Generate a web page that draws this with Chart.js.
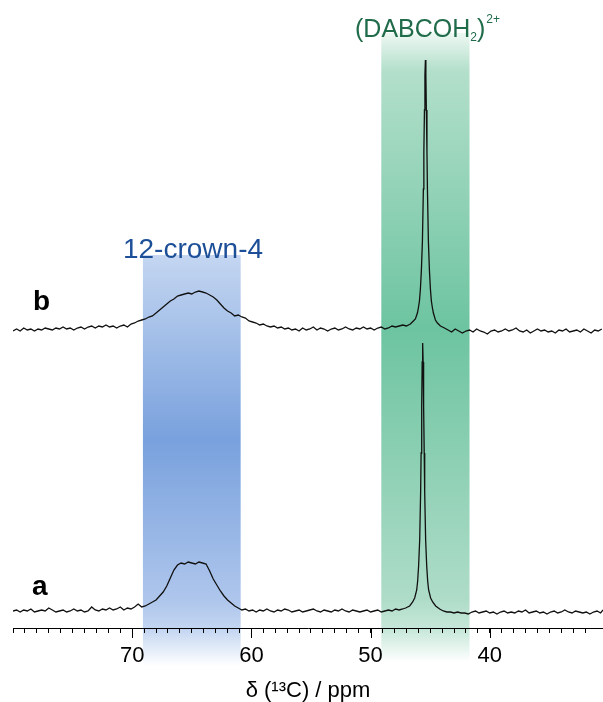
<!DOCTYPE html>
<html><head><meta charset="utf-8">
<script src="https://cdn.jsdelivr.net/npm/chart.js@4.4.1/dist/chart.umd.min.js"></script>
<style>html,body{margin:0;padding:0;background:#fff}#wrap{width:603px;height:702px}</style>
</head><body><div id="wrap"><canvas id="c" width="603" height="702"></canvas></div>
<script>
// chemical shift axis (ppm) and intensities for spectrum a
const ppmA=[80.0,79.7,79.4,79.1,78.8,78.5,78.2,77.9,77.6,77.3,77.0,76.7,76.4,76.1,75.8,75.5,75.2,74.9,74.6,74.3,74.0,73.7,73.4,73.1,72.8,72.5,72.2,71.9,71.6,71.3,71.0,70.7,70.4,70.1,69.8,69.5,
69.2,68.9,68.6,68.3,68.0,67.7,67.4,67.1,66.8,66.5,66.2,65.9,65.6,65.3,65.0,64.7,64.4,64.1,63.8,63.5,63.2,62.9,62.6,62.3,62.0,61.7,61.4,61.1,60.8,
60.5,60.2,59.9,59.6,59.3,59.0,58.7,58.4,58.1,57.8,57.5,57.2,56.9,56.6,56.3,56.0,55.7,55.4,55.1,54.8,54.5,54.2,53.9,53.6,53.3,53.0,52.7,52.4,52.1,51.8,51.5,51.2,50.9,50.6,50.3,50.0,49.7,49.4,49.1,48.8,48.5,48.2,47.9,47.6,47.3,
47.06,46.72,46.47,46.30,46.13,46.05,45.97,45.88,45.80,45.76,45.71,45.67,45.63,45.59,45.55,45.50,45.46,45.38,45.29,45.21,45.13,44.96,44.79,44.54,44.20,
43.9,43.6,43.3,43.0,42.7,42.4,42.1,41.8,41.5,41.2,40.9,40.6,40.3,40.0,39.7,39.4,39.1,38.8,38.5,38.2,37.9,37.6,37.3,37.0,36.7,36.4,36.1,35.8,35.5,35.2,34.9,34.6,34.3,34.0,33.7,33.4,33.1,32.8,32.5,32.2,31.9,31.6,31.3,31.0,30.7,30.5];
const intA=[0,1,-1,1,0,2,-1,0,1,0,3,1,-1,0,1,-1,0,2,0,1,-1,0,4,1,0,2,1,3,1,2,4,1,3,2,4,7,
4,5,7,9,11,15,19,25,33,41,46,48,47,49,48,47,49,48,47,40,32,26,20,15,11,8,5,3,1,
2,0,1,-1,1,0,2,0,-1,1,0,2,1,-1,0,1,-1,0,1,2,0,-1,1,0,-1,1,0,2,0,-1,1,0,-1,0,1,-1,0,1,-1,0,1,0,2,1,2,
3,5,9,13,21,30,45,71,119,158,205,249,268,249,205,158,119,71,45,30,21,13,9,5,2,
0,-1,-1,-2,-1,-2,-2,-3,-1,0,-2,-1,0,-2,-1,-3,-1,0,-2,-1,-2,0,-1,1,-2,-1,0,-2,-1,-3,-1,0,-2,-1,1,-1,-2,0,-1,-2,-1,-3,-1,0,-2,1];
// spectrum b
const ppmB=[80.0,79.7,79.4,79.1,78.8,78.5,78.2,77.9,77.6,77.3,77.0,76.7,76.4,76.1,75.8,75.5,75.2,74.9,74.6,74.3,74.0,73.7,73.4,73.1,72.8,72.5,72.2,71.9,71.6,71.3,71.0,70.7,70.4,70.1,69.8,69.5,
69.2,68.9,68.6,68.3,68.0,67.7,67.4,67.1,66.8,66.5,66.2,65.9,65.6,65.3,65.0,64.7,64.4,64.1,63.8,63.5,63.2,62.9,62.6,62.3,62.0,61.7,61.4,61.1,60.8,60.5,60.2,59.9,59.6,59.3,59.0,58.7,58.4,58.1,57.8,57.5,57.2,56.9,56.6,
56.3,56.0,55.7,55.4,55.1,54.8,54.5,54.2,53.9,53.6,53.3,53.0,52.7,52.4,52.1,51.8,51.5,51.2,50.9,50.6,50.3,50.0,49.7,49.4,49.1,48.8,48.5,48.2,47.9,47.6,47.3,
47.00,46.66,46.41,46.24,46.07,45.99,45.90,45.82,45.74,45.65,45.57,45.53,45.48,45.44,45.40,45.36,45.32,45.27,45.23,45.15,45.06,44.98,44.90,44.81,44.73,44.56,44.39,44.14,43.80,
43.5,43.2,42.9,42.6,42.3,42.0,41.7,41.4,41.1,40.8,40.5,40.2,39.9,39.6,39.3,39.0,38.7,38.4,38.1,37.8,37.5,37.2,36.9,36.6,36.3,36.0,35.7,35.4,35.1,34.8,34.5,34.2,33.9,33.6,33.3,33.0,32.7,32.4,32.1,31.8,31.5,31.2,30.9,30.6];
const intB=[-1,1,-1,2,0,1,-1,1,0,2,1,0,2,1,3,1,2,0,2,3,1,3,4,2,4,3,5,3,4,2,4,5,3,6,7,9,
10,11,13,14,17,20,23,26,29,31,34,35,36,37,36,38,39,38,37,35,33,30,26,22,19,17,14,15,13,12,9,8,7,5,6,4,3,4,2,3,1,2,0,
1,-1,2,0,1,3,0,2,1,-1,1,2,0,1,3,1,0,2,1,3,1,2,0,2,3,1,2,4,3,4,5,
4,6,9,11,17,22,29,41,59,89,141,178,220,255,270,255,220,178,141,89,59,41,29,22,17,10,7,4,2,
0,-2,1,-1,-3,-1,0,-2,1,-1,-2,-4,-1,0,-2,-1,1,-1,0,2,-1,-2,0,-3,-1,1,-1,0,-2,-1,-3,0,-1,1,-2,-1,0,-2,1,-1,-3,0,-1,1];
const offsetA=17, offsetB=298;      // vertical stacking of the two spectra
const xMin=30.5, xMax=80, yMax=628;
const tickLabels=[70,60,50,40];
const bandCrown=[69.1,60.9];
const bandDabco=[49.1,41.7];

const FONT='"Liberation Sans", Arial, sans-serif';

const bgPlugin={id:'bg',beforeDraw(chart){
  const ctx=chart.ctx, xs=chart.scales.x;
  ctx.save();
  ctx.fillStyle='#fff';ctx.fillRect(0,0,chart.width,chart.height);
  let x1=xs.getPixelForValue(bandCrown[0]), x2=xs.getPixelForValue(bandCrown[1]);
  let top=255, bot=666;
  let g=ctx.createLinearGradient(0,top,0,bot);
  g.addColorStop(0,'#c4d6f1');g.addColorStop(0.45,'#79a1dd');g.addColorStop(0.84,'#aec6ec');
  g.addColorStop(0.91,'#c3d5f1');g.addColorStop(1,'rgba(255,255,255,1)');
  ctx.fillStyle=g;ctx.fillRect(x1,top,x2-x1,bot-top);
  x1=xs.getPixelForValue(bandDabco[0]); x2=xs.getPixelForValue(bandDabco[1]);
  top=33; bot=662;
  g=ctx.createLinearGradient(0,top,0,bot);
  g.addColorStop(0,'#eef8f3');g.addColorStop(0.06,'#b3dfcb');g.addColorStop(0.47,'#6dc4a0');
  g.addColorStop(0.9,'#aedcc8');g.addColorStop(0.95,'#c8e8da');g.addColorStop(1,'#ffffff');
  ctx.fillStyle=g;ctx.fillRect(x1,top,x2-x1,bot-top);
  ctx.restore();
}};

const fgPlugin={id:'fg',afterDraw(chart){
  const ctx=chart.ctx, xs=chart.scales.x, b=chart.chartArea.bottom;
  ctx.save();
  ctx.strokeStyle='#000';ctx.lineWidth=1;
  tickLabels.forEach(v=>{const x=Math.round(xs.getPixelForValue(v))+0.5;
    ctx.beginPath();ctx.moveTo(x,b);ctx.lineTo(x,b+10);ctx.stroke();});
  ctx.textBaseline='alphabetic';
  ctx.fillStyle='#000';ctx.font='bold 28px '+FONT;ctx.textAlign='left';
  ctx.fillText('b',33,310);ctx.fillText('a',32,595);
  ctx.fillStyle='#1c4f98';ctx.font='28px '+FONT;ctx.textAlign='center';
  ctx.fillText('12-crown-4',193,258);
  ctx.textAlign='left';ctx.fillStyle='#1f6b4a';
  let x=355;ctx.font='25px '+FONT;ctx.fillText('(DABCOH',x,37);x+=ctx.measureText('(DABCOH').width;
  ctx.font='12px '+FONT;ctx.fillText('2',x,41);x+=ctx.measureText('2').width;
  ctx.font='25px '+FONT;ctx.fillText(')',x,37);x+=ctx.measureText(')').width+1;
  ctx.font='12px '+FONT;ctx.fillText('2+',x,23);
  ctx.restore();
}};

new Chart(document.getElementById('c'),{
  type:'line',
  data:{datasets:[
    {label:'a',data:ppmA.map((x,i)=>({x:x,y:intA[i]+offsetA})),borderColor:'#111',borderWidth:1.3,pointRadius:0,tension:0,fill:false},
    {label:'b',data:ppmB.map((x,i)=>({x:x,y:intB[i]+offsetB})),borderColor:'#111',borderWidth:1.3,pointRadius:0,tension:0,fill:false}
  ]},
  options:{
    responsive:false,animation:false,devicePixelRatio:1,
    layout:{padding:{left:13,right:0,top:0,bottom:0}},
    plugins:{legend:{display:false},tooltip:{enabled:false}},
    scales:{
      x:{type:'linear',reverse:true,min:xMin,max:xMax,
        ticks:{stepSize:1,autoSkip:false,maxRotation:0,color:'#000',padding:10,
          font:{family:FONT,size:22},
          callback:v=>tickLabels.some(t=>Math.abs(t-v)<1e-6)?String(v):''},
        grid:{drawOnChartArea:false,drawTicks:true,tickLength:5,color:'#000',tickColor:'#000',lineWidth:1},
        border:{display:true,color:'#000',width:1},
        title:{display:true,text:'δ (¹³C) / ppm',color:'#000',font:{family:FONT,size:22,lineHeight:1},padding:{top:0,bottom:0}},
        afterFit:s=>{s.height=702-yMax;s.paddingLeft=0;s.paddingRight=0;}
      },
      y:{display:false,min:0,max:yMax}
    }
  },
  plugins:[bgPlugin,fgPlugin]
});
</script></body></html>
